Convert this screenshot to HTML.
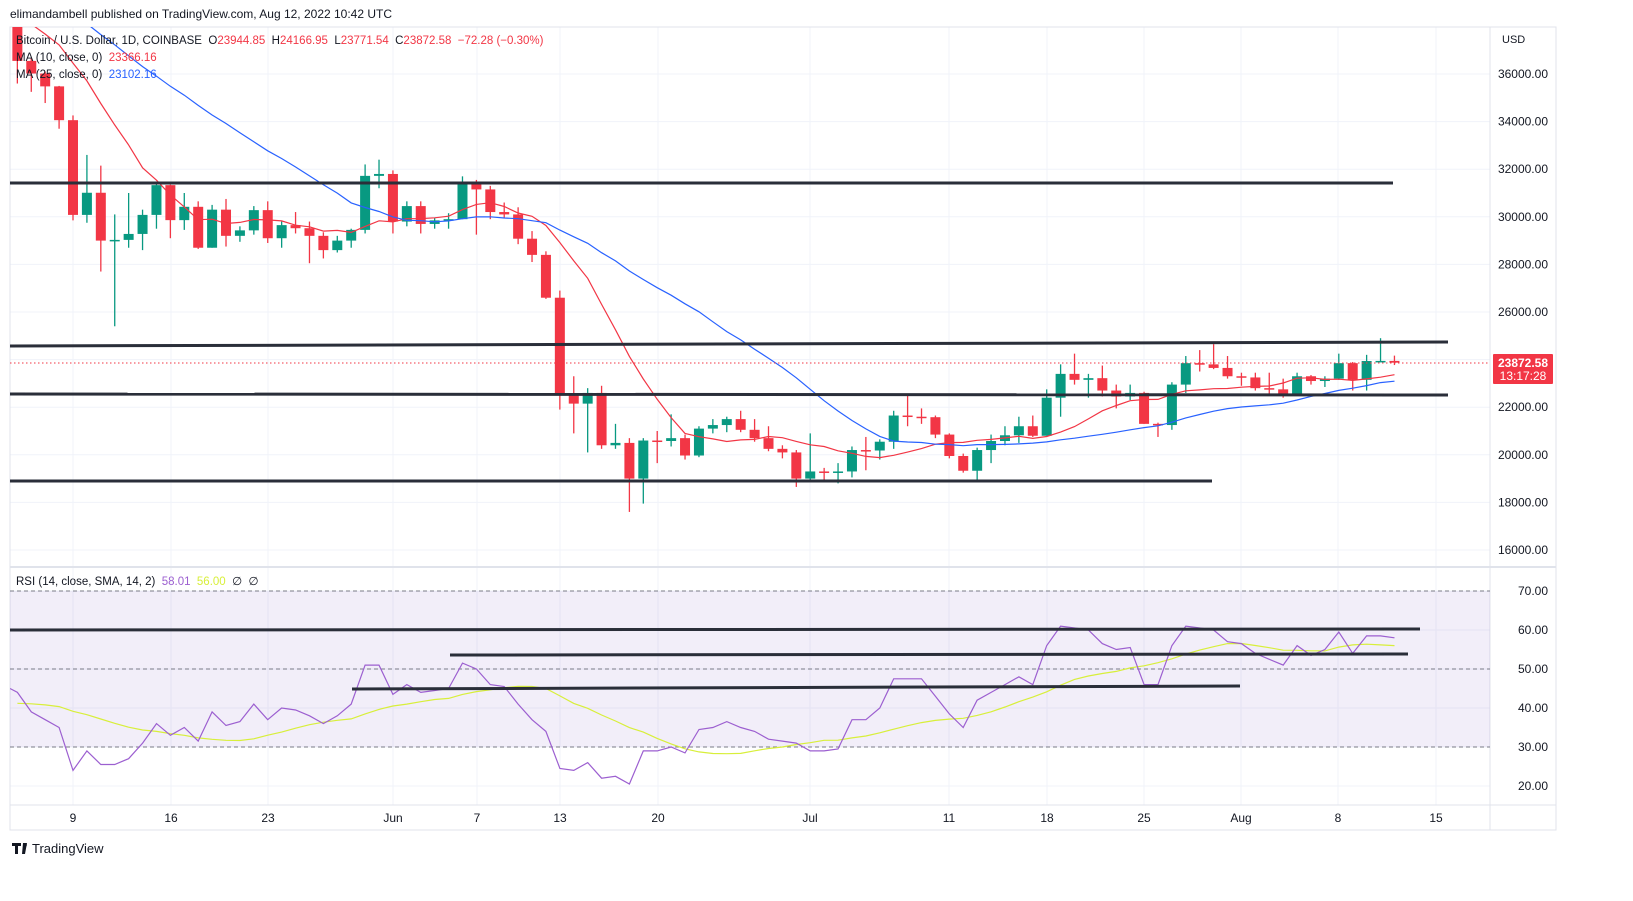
<!DOCTYPE html>
<html><head><meta charset="utf-8">
<style>
html,body{margin:0;padding:0;background:#fff;width:1633px;height:901px;overflow:hidden;font-family:"Liberation Sans",sans-serif}
svg{display:block}
</style></head>
<body>
<svg id="s" width="1633" height="901" xmlns="http://www.w3.org/2000/svg" font-family="Liberation Sans, sans-serif"></svg>
<script>
const pre=[42000,40500,39700,40100,41100,39900,40500,39700,40800,41500,41400,40500,39700,39450,40400,38100,39200,39700,38600,37700,38500,38500,38000,37700,39700];
// O,C,H,L from May 5
const D=[
[39690,36550,39850,35600],[36550,36020,36650,35250],[36020,35480,36100,34780],[35480,34060,35500,33700],
[34060,30080,34260,29850],[30080,31010,32600,29750],[31010,29000,32150,27700],[29000,29030,30100,25400],
[29030,29280,31000,28700],[29280,30080,30300,28600],[30080,31330,31400,29500],[31330,29860,31350,29100],
[29860,30420,31000,29450],[30420,28700,30650,28650],[28700,30300,30500,28700],[30300,29200,30750,28750],
[29200,29430,29600,28950],[29430,30280,30450,29250],[30280,29100,30650,28900],[29100,29650,29800,28700],
[29650,29520,30200,29300],[29520,29200,29800,28050],[29200,28600,29350,28250],[28600,29000,29200,28500],
[29000,29450,29500,28700],[29450,31720,32200,29300],[31720,31800,32400,31200],[31800,29800,31950,29300],
[29800,30450,30650,29600],[30450,29700,30650,29300],[29700,29850,29950,29500],[29850,29900,30150,29500],
[29900,31370,31700,29900],[31370,31150,31550,29250],[31150,30200,31300,29900],[30200,30100,30600,29950],
[30100,29080,30400,28850],[29080,28400,29400,28100],[28400,26600,28550,26550],[26600,22500,26900,21900],
[22500,22150,23300,20900],[22150,22600,22800,20100],[22600,20400,22900,20250],[20400,20500,21300,20250],
[20500,19000,20700,17600],[19000,20600,20700,17950],[20600,20580,21000,19650],[20580,20700,21700,20350],
[20700,19970,20850,19800],[19970,21100,21200,19900],[21100,21250,21500,20900],[21250,21500,21600,20950],
[21500,21050,21850,20950],[21050,20700,21500,20550],[20700,20250,21200,20150],[20250,20100,20400,19850],
[20100,19000,20200,18650],[19000,19300,20900,18950],[19300,19250,19450,18950],[19250,19300,19650,18800],
[19300,20200,20350,19050],[20200,20180,20750,19350],[20180,20550,20650,19800],[20550,21650,21850,20250],
[21650,21600,22500,21200],[21600,21580,21950,21300],[21580,20850,21650,20700],[20850,19950,20900,19850],
[19950,19330,20050,19250],[19330,20200,20300,18950],[20200,20580,20850,19650],[20580,20820,21200,20400],
[20820,21200,21600,20500],[21200,20800,21650,20750],[20800,22400,22750,20800],[22400,23400,23800,21600],
[23400,23150,24250,22950],[23150,23220,23400,22400],[23220,22700,23750,22450],[22700,22450,22950,21950],
[22450,22600,22950,22300],[22600,21300,22650,21300],[21300,21250,21350,20750],[21250,22950,23050,21050],
[22950,23850,24150,22600],[23850,23800,24400,23500],[23800,23650,24650,23600],[23650,23300,24150,23200],
[23300,23250,23450,22900],[23250,22800,23450,22700],[22800,22750,23450,22550],[22750,22550,23200,22400],
[22550,23300,23450,22500],[23300,23100,23350,22950],[23100,23200,23300,22850],[23200,23850,24250,23150],
[23850,23150,23900,22700],[23150,23940,24200,22700],[23940,23945,24900,23900],[23945,23872,24167,23771]];
const R=[44,39,37,35,24,29,25.5,25.5,27,31,36,33,35,31.5,39,35.5,36.5,41,37,40,39.5,38,36,38,41,51,51,43.5,46,44,44.5,45,51.5,50,46,45.5,41,37,34,24.5,24,26,22,22.5,20.5,29,29,30,28.5,34.5,35,36.5,35,34,32,31.5,31,29,29,29.5,37,37,40,47.5,47.5,47.5,43,38.5,35,42,44,46,48,46,56,61,60.5,60,56.5,55,55.5,46,46,56,61,60.5,60,57,56.5,54,52.5,51,56,53.5,55,59.5,54,58.5,58.5,58];
const X=i=>73+13.91*(i-4);
const Y=p=>74+(36000-p)*0.0238;
const RY=r=>591+(70-r)*3.9;
let h='';
const G='#f0f3fa';
// grid
const ticks=[[73,'9'],[171,'16'],[268,'23'],[393,'Jun'],[477,'7'],[560,'13'],[658,'20'],[810,'Jul'],[949,'11'],[1047,'18'],[1144,'25'],[1241,'Aug'],[1338,'8'],[1436,'15']];
ticks.forEach(t=>{h+=`<line x1="${t[0]}" y1="27" x2="${t[0]}" y2="805" stroke="${G}"/>`;h+=`<text x="${t[0]}" y="822" font-size="12" fill="#131722" text-anchor="middle">${t[1]}</text>`});
for(let p=16000;p<=36000;p+=2000){const y=Y(p);h+=`<line x1="10" y1="${y}" x2="1490" y2="${y}" stroke="${G}"/><text x="1548" y="${y+4}" font-size="12" fill="#131722" text-anchor="end">${p.toFixed(2)}</text>`}
for(let r=20;r<=70;r+=10){const y=RY(r);h+=`<line x1="10" y1="${y}" x2="1490" y2="${y}" stroke="${G}"/><text x="1548" y="${y+4}" font-size="12" fill="#131722" text-anchor="end">${r.toFixed(2)}</text>`}
h+=`<text x="1502" y="43" font-size="11" fill="#131722">USD</text>`;
// frame
h+=`<rect x="10" y="27" width="1546" height="803" fill="none" stroke="#e0e3eb"/>`;
h+=`<line x1="1490" y1="27" x2="1490" y2="830" stroke="#e0e3eb"/>`;
h+=`<line x1="10" y1="567" x2="1556" y2="567" stroke="#e0e3eb" stroke-width="2"/>`;
h+=`<line x1="10" y1="805" x2="1556" y2="805" stroke="#e0e3eb"/>`;
h+=`<clipPath id="c"><rect x="10" y="27" width="1480" height="539"/></clipPath><clipPath id="c2"><rect x="10" y="568" width="1480" height="236"/></clipPath>`;
// candles
let g='';
D.forEach((d,i)=>{const x=X(i),up=d[1]>=d[0],c=up?'#089981':'#f23645';const t=Y(Math.max(d[0],d[1])),b=Y(Math.min(d[0],d[1]));
g+=`<line x1="${x}" y1="${Y(d[2])}" x2="${x}" y2="${Y(d[3])}" stroke="${c}" stroke-width="1.3"/><rect x="${x-5}" y="${t}" width="10" height="${Math.max(1.5,b-t)}" fill="${c}"/>`});
const closes=pre.concat(D.map(d=>d[1]));
function ma(n,col){let pts=[];for(let i=0;i<D.length;i++){let k=i+pre.length,s=0;for(let j=k-n+1;j<=k;j++)s+=closes[j];pts.push(X(i).toFixed(1)+','+Y(s/n).toFixed(1))}return `<polyline points="${pts.join(' ')}" fill="none" stroke="${col}" stroke-width="1.2"/>`}
g+=ma(10,'#f23645')+ma(25,'#2962ff');
// hlines
const L=(x1,y1,x2,y2)=>`<line x1="${x1}" y1="${y1}" x2="${x2}" y2="${y2}" stroke="#2a2e39" stroke-width="3"/>`;
g+=L(10,183,1393,183)+L(10,346,1448,342)+L(10,394,1448,395)+L(10,481,1212,481);
g+=`<line x1="10" y1="363" x2="1490" y2="363" stroke="#f23645" stroke-dasharray="1.5,2.5"/>`;
h+=`<g clip-path="url(#c)">${g}</g>`;
// RSI
let r2=`<rect x="10" y="${RY(70)}" width="1480" height="${RY(30)-RY(70)}" fill="#7e57c2" fill-opacity="0.1"/>`;
[70,50,30].forEach(v=>r2+=`<line x1="10" y1="${RY(v)}" x2="1490" y2="${RY(v)}" stroke="#787b86" stroke-dasharray="4,3"/>`);
let rp=[`10,${RY(45)}`];R.forEach((v,i)=>rp.push(X(i).toFixed(1)+','+RY(v).toFixed(1)));
let sp=[];const RR=Array(13).fill(41).concat(R);
for(let i=0;i<R.length;i++){let s=0;for(let j=i;j<i+14;j++)s+=RR[j];sp.push(X(i).toFixed(1)+','+RY(s/14).toFixed(1))}
r2+=`<polyline points="${sp.join(' ')}" fill="none" stroke="#d8ef3a" stroke-width="1.2"/>`;
r2+=`<polyline points="${rp.join(' ')}" fill="none" stroke="#9c5fd0" stroke-width="1.2"/>`;
r2+=L(10,630,1420,629)+L(450,655,1408,654)+L(352,689,1240,686);
h+=`<g clip-path="url(#c2)">${r2}</g>`;
// price label
h+=`<rect x="1493" y="354" width="60" height="30" fill="#f23645" rx="1"/><text x="1523" y="367" font-size="12" font-weight="bold" fill="#fff" text-anchor="middle">23872.58</text><text x="1523" y="380" font-size="12" fill="#fff" text-anchor="middle">13:17:28</text>`;
// legends
h+=`<text x="16" y="44" font-size="11.5" fill="#131722">Bitcoin / U.S. Dollar, 1D, COINBASE&#160; O<tspan fill="#f23645">23944.85</tspan>&#160; H<tspan fill="#f23645">24166.95</tspan>&#160; L<tspan fill="#f23645">23771.54</tspan>&#160; C<tspan fill="#f23645">23872.58&#160; −72.28 (−0.30%)</tspan></text>`;
h+=`<text x="16" y="61" font-size="11.5" fill="#131722">MA (10, close, 0)&#160; <tspan fill="#f23645">23366.16</tspan></text>`;
h+=`<text x="16" y="78" font-size="11.5" fill="#131722">MA (25, close, 0)&#160; <tspan fill="#2962ff">23102.16</tspan></text>`;
h+=`<text x="16" y="585" font-size="11.5" fill="#131722">RSI (14, close, SMA, 14, 2)&#160; <tspan fill="#9c5fd0">58.01</tspan>&#160; <tspan fill="#d8ef3a">56.00</tspan>&#160; ∅&#160; ∅</text>`;
h+=`<text x="10" y="18" font-size="12" fill="#131722">elimandambell published on TradingView.com, Aug 12, 2022 10:42 UTC</text>`;
// footer
h+=`<path d="M12 843h9v3h-3v8h-3v-8h-3z M23 843h4l-2 11h-3z" fill="#131722"/><circle cx="25" cy="845" r="1.8" fill="#131722"/>`;
h+=`<text x="32" y="853" font-size="13" fill="#131722">TradingView</text>`;
document.getElementById('s').innerHTML=h;
</script>
</body></html>
